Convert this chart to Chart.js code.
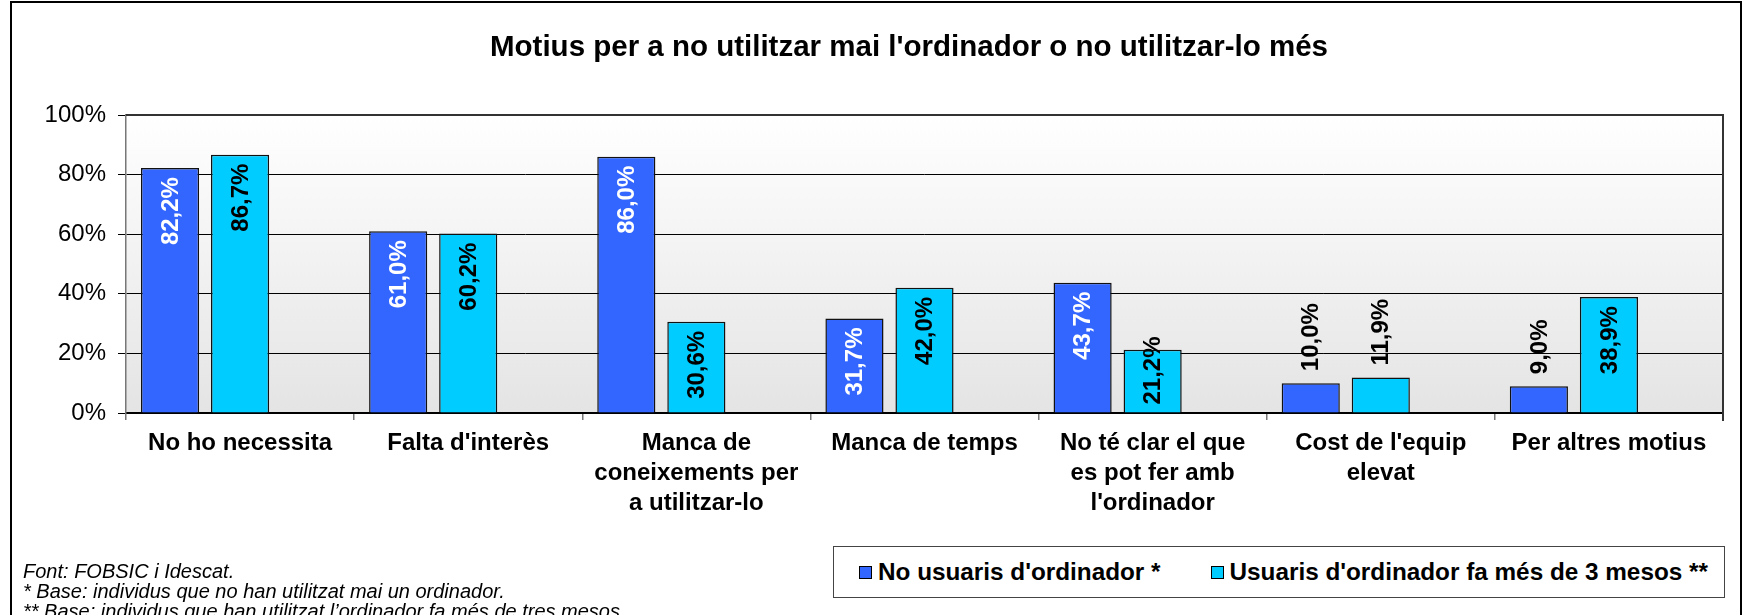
<!DOCTYPE html>
<html>
<head>
<meta charset="utf-8">
<script src="https://cdn.jsdelivr.net/npm/chart.js@4/dist/chart.umd.min.js"></script>
<style>
  html, body { margin: 0; padding: 0; background: #fff; }
  body { width: 1746px; height: 615px; position: relative; overflow: hidden; font-family: 'Liberation Sans', Arial, sans-serif; }
  #frame { position: absolute; left: 10px; top: 1px; width: 1728px; height: 700px; border: 2px solid #000; }
  #chart { position: absolute; left: 0; top: 0; }
  #title { position: absolute; left: 309px; width: 1200px; top: 29px; text-align: center; font-weight: bold; font-size: 29.5px; }
  #notes { position: absolute; left: 23px; top: 561px; font-style: italic; font-size: 20px; line-height: 20px; white-space: nowrap; }
  #legend { position: absolute; left: 833px; top: 546px; width: 890px; height: 50px; border: 1.5px solid #444; background: #fff;
            display: flex; align-items: center; font-weight: bold; font-size: 24.3px; white-space: nowrap; }
  .item { display: flex; align-items: center; flex-shrink: 0; }
  .box { width: 11px; height: 11px; border: 1px solid #000; margin-right: 6px; flex-shrink: 0; }
</style>
</head>
<body>
<div id="frame"></div>
<canvas id="chart" width="1746" height="615"></canvas>
<div id="title">Motius per a no utilitzar mai l'ordinador o no utilitzar-lo més</div>
<div id="notes">
  <div>Font: FOBSIC i Idescat.</div>
  <div>* Base: individus que no han utilitzat mai un ordinador.</div>
  <div>** Base: individus que han utilitzat l’ordinador fa més de tres mesos.</div>
</div>
<div id="legend"></div>
<script>
// dades
const categories = [
    'No ho necessita',
    "Falta d'interès",
    ['Manca de', 'coneixements per', 'a utilitzar-lo'],
    'Manca de temps',
    ['No té clar el que', 'es pot fer amb', "l'ordinador"],
    ["Cost de l'equip", 'elevat'],
    'Per altres motius'
];
const seriesNames = ["No usuaris d'ordinador *", "Usuaris d'ordinador fa més de 3 mesos **"];
const noUsuaris = [82.2, 61.0, 86.0, 31.7, 43.7, 10.0, 9.0];
const usuaris = [86.7, 60.2, 30.6, 42.0, 21.2, 11.9, 38.9];
const yMin = 0;
const yMax = 100;
const yStep = 20;

const FONT = "'Liberation Sans', Arial, sans-serif";

// fons degradat de l'àrea del gràfic
const plotBackground = {
    id: 'plotBackground',
    beforeDraw(chart) {
        const { ctx, chartArea: a } = chart;
        const g = ctx.createLinearGradient(0, a.top, 0, a.bottom);
        g.addColorStop(0, '#ffffff');
        g.addColorStop(1, '#e4e4e4');
        ctx.save();
        ctx.fillStyle = g;
        ctx.fillRect(a.left, a.top, a.right - a.left, a.bottom - a.top);
        ctx.restore();
    },
    afterDraw(chart) {
        const { ctx, chartArea: a } = chart;
        ctx.save();
        ctx.strokeStyle = '#333';
        ctx.lineWidth = 2;
        ctx.beginPath();
        ctx.moveTo(a.left, a.top);
        ctx.lineTo(a.right, a.top);
        ctx.lineTo(a.right, a.bottom + 8);
        ctx.stroke();
        ctx.restore();
    }
};

// etiquetes de valor verticals
const valueLabels = {
    id: 'valueLabels',
    afterDatasetsDraw(chart) {
        const ctx = chart.ctx;
        ctx.save();
        ctx.font = 'bold 24px ' + FONT;
        ctx.textBaseline = 'middle';
        ctx.textAlign = 'left';
        chart.data.datasets.forEach((ds, di) => {
            if (!ds.labelColor) return;
            chart.getDatasetMeta(di).data.forEach((bar, i) => {
                const v = ds.data[i];
                if (v == null) return;
                const text = v.toFixed(1).replace('.', ',') + '%';
                const w = ctx.measureText(text).width;
                const h = bar.base - bar.y;
                let bottom;
                if (h > w * 0.7) {
                    let top = bar.y + 9;
                    if (top + w > bar.base - 8) top = bar.base - 8 - w;
                    bottom = top + w;
                    ctx.fillStyle = ds.labelColor;
                } else {
                    bottom = bar.y - 12;
                    ctx.fillStyle = '#000';
                }
                ctx.save();
                ctx.translate(bar.x, bottom);
                ctx.rotate(-Math.PI / 2);
                ctx.fillText(text, 0, 1);
                ctx.restore();
            });
        });
        ctx.restore();
    }
};

const chart = new Chart(document.getElementById('chart'), {
    type: 'bar',
    data: {
        labels: categories,
        datasets: [
            { label: seriesNames[0], data: noUsuaris, backgroundColor: '#3366ff', borderColor: '#111', borderWidth: 1.5, labelColor: '#fff' },
            { label: seriesNames[1], data: usuaris, backgroundColor: '#00ccff', borderColor: '#111', borderWidth: 1.5, labelColor: '#000' },
            // sèrie buida: deixa l'espai del tercer grup com a l'original
            { label: '', data: categories.map(() => null), backgroundColor: 'transparent' }
        ]
    },
    options: {
        responsive: false,
        animation: false,
        categoryPercentage: 0.921,
        barPercentage: 0.83,
        layout: { padding: { top: 115, right: 23, left: 0, bottom: 0 } },
        plugins: {
            legend: { display: false },
            tooltip: { enabled: false }
        },
        scales: {
            x: {
                ticks: { color: '#000', font: { family: FONT, size: 24, weight: 'bold', lineHeight: 1.25 }, padding: 8, maxRotation: 0, autoSkip: false },
                grid: { drawOnChartArea: false, offset: true, tickLength: 7, color: '#777', lineWidth: 1.5 },
                border: { color: '#000', width: 2 },
                afterFit(s) { s.height = 202; }
            },
            y: {
                min: yMin,
                max: yMax,
                ticks: { stepSize: yStep, color: '#000', font: { family: FONT, size: 24 }, padding: 12, callback: v => v + '%' },
                grid: { color: '#000', lineWidth: 1, tickLength: 8 },
                border: { color: '#777', width: 1.5 },
                afterFit(s) { s.width = 126; }
            }
        }
    },
    plugins: [plotBackground, valueLabels]
});

// llegenda
const legendEl = document.getElementById('legend');
chart.data.datasets.forEach((ds, i) => {
    if (!ds.labelColor) return;
    const item = document.createElement('div');
    item.className = 'item';
    item.style.marginLeft = i === 0 ? '25px' : '50px';
    const box = document.createElement('span');
    box.className = 'box';
    box.style.background = ds.backgroundColor;
    const txt = document.createElement('span');
    txt.textContent = ds.label;
    item.appendChild(box);
    item.appendChild(txt);
    legendEl.appendChild(item);
});
</script>
</body>
</html>
